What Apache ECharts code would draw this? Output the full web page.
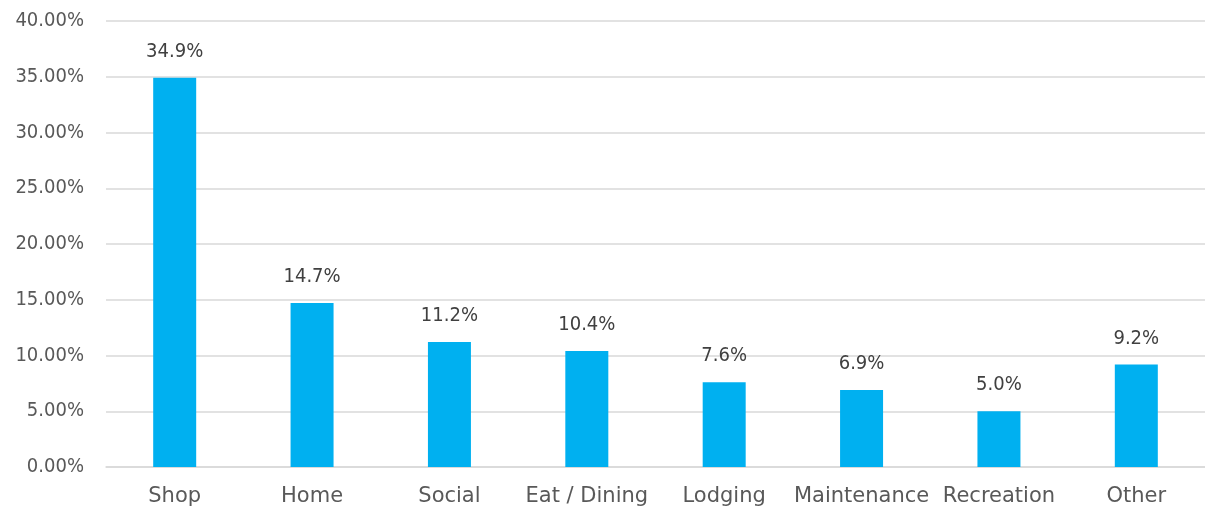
<!DOCTYPE html>
<html>
<head>
<meta charset="utf-8">
<script src="https://cdn.jsdelivr.net/npm/echarts@6/dist/echarts.min.js"></script>
<style>html,body{margin:0;padding:0;background:#fff}#c{width:1205px;height:510px}</style>
</head>
<body>
<div id="c"></div>
<script>
var categories = ['Shop', 'Home', 'Social', 'Eat / Dining', 'Lodging', 'Maintenance', 'Recreation', 'Other'];
var values = [0.349, 0.147, 0.112, 0.104, 0.076, 0.069, 0.050, 0.092];
var FONT = 'DejaVu Sans Condensed';
var chart = echarts.init(document.getElementById('c'));
chart.setOption({
  animation: false,
  grid: { left: 106, top: 21, width: 1108, height: 446, containLabel: false },
  xAxis: {
    type: 'category',
    data: categories,
    axisLine: { lineStyle: { color: '#d9d9d9', width: 1.5 } },
    axisTick: { show: false },
    axisLabel: { color: '#595959', fontFamily: 'DejaVu Sans', fontSize: 21, margin: 19, interval: 0 }
  },
  yAxis: {
    type: 'value',
    min: 0, max: 0.4, interval: 0.05,
    axisLine: { show: false },
    axisTick: { show: false },
    splitLine: { lineStyle: { color: '#d9d9d9', width: 1.5 } },
    axisLabel: {
      color: '#595959', fontFamily: FONT, fontSize: 20, margin: 22,
      formatter: function (v) { return (v * 100).toFixed(2) + '%'; }
    }
  },
  series: [{
    type: 'bar',
    data: values,
    barWidth: 43,
    itemStyle: { color: '#00B0F0' },
    label: {
      show: true, position: 'top', distance: 16,
      color: '#404040', fontFamily: FONT, fontSize: 20,
      formatter: function (p) { return (p.value * 100).toFixed(1) + '%'; }
    }
  }]
});
</script>
</body>
</html>
